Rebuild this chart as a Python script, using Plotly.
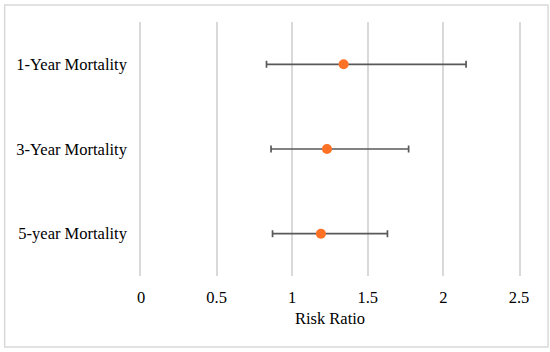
import plotly.graph_objects as go

outcomes = ["1-Year Mortality", "3-Year Mortality", "5-year Mortality"]
risk_ratio = [1.34, 1.23, 1.19]
ci_lower = [0.83, 0.86, 0.87]
ci_upper = [2.15, 1.77, 1.63]
x_ticks = [0, 0.5, 1, 1.5, 2, 2.5]

err_plus = [u - r for u, r in zip(ci_upper, risk_ratio)]
err_minus = [r - l for r, l in zip(risk_ratio, ci_lower)]

fig = go.Figure()
fig.add_trace(go.Scatter(
    x=risk_ratio, y=outcomes, mode="markers",
    marker=dict(color="#FF7124", size=10),
    error_x=dict(type="data", symmetric=False, array=err_plus, arrayminus=err_minus,
                 color="#595959", thickness=1.7, width=3.5),
    showlegend=False,
))

font = dict(family="Liberation Serif, Times New Roman, serif", size=16.5, color="#000000")
fig.update_layout(
    width=550, height=352,
    margin=dict(l=141, r=31, t=22, b=76),
    paper_bgcolor="white", plot_bgcolor="white",
    font=font,
    xaxis=dict(range=[0, 2.5], tickvals=x_ticks, ticktext=["0", "0.5", "1", "1.5", "2", "2.5"],
               showgrid=True, gridcolor="#D9D9D9", gridwidth=1.5, zeroline=False,
               showline=False, ticks="", ticklen=0, ticklabelstandoff=9,
               title=dict(text="Risk Ratio", font=font, standoff=6)),
    yaxis=dict(categoryorder="array", categoryarray=outcomes[::-1], range=[-0.5, 2.5],
               showgrid=False, zeroline=False, showline=True, mirror=True,
               linecolor="#D9D9D9", linewidth=1.5, ticks="",
               ticklabelstandoff=9),
    shapes=[dict(type="rect", xref="paper", yref="paper",
                 x0=-0.3607, x1=1.0769, y0=-0.2795, y1=1.0669,
                 line=dict(color="#D9D9D9", width=1.5), fillcolor="rgba(0,0,0,0)")],
)
fig.write_html("out.html", config={"displayModeBar": False},
               post_script="document.body.style.margin='0';")
